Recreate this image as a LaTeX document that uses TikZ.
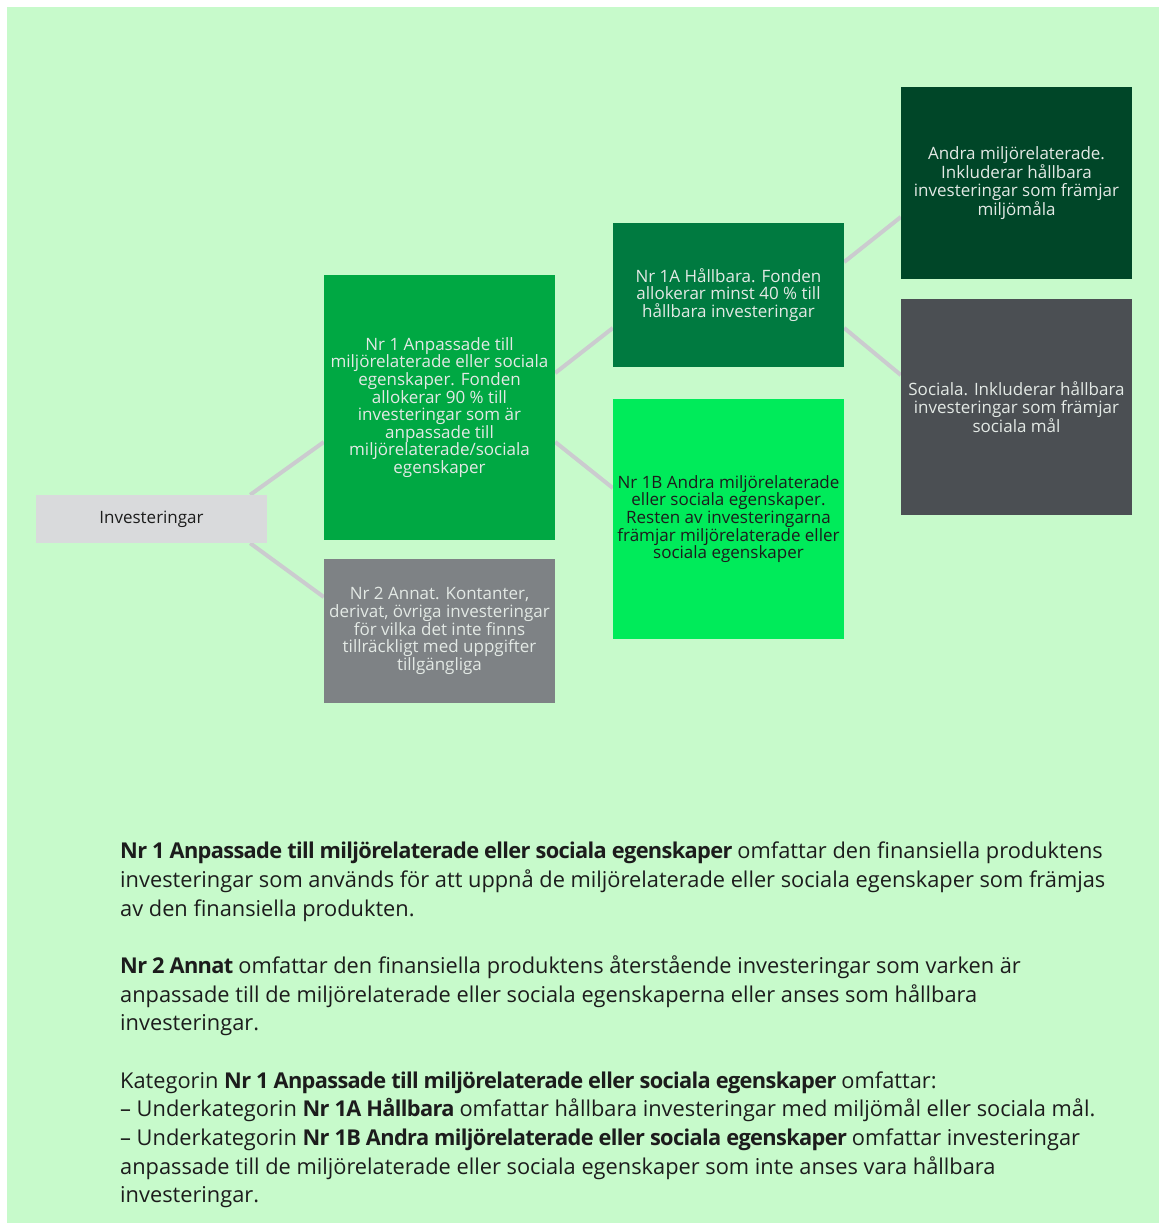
\documentclass[tikz,border=0pt]{standalone}
\usepackage{fontspec}
\setmainfont{Open Sans}[BoldFeatures={LetterSpace=-3}]
\usepackage{xcolor}

\definecolor{bggreen}{HTML}{C7FACB}
\definecolor{linkgrey}{HTML}{CBCBCF}
\definecolor{invgrey}{HTML}{D9DADC}
\definecolor{nronegreen}{HTML}{00A843}
\definecolor{nrtwogrey}{HTML}{7E8285}
\definecolor{nroneagreen}{HTML}{007A40}
\definecolor{nronebgreen}{HTML}{00EB5A}
\definecolor{andragreen}{HTML}{004628}
\definecolor{socialagrey}{HTML}{4B4F53}
\definecolor{boxtext}{HTML}{E3E9E5}
\definecolor{darktext}{HTML}{1C1C1C}

\pgfdeclarelayer{canvas}
\pgfdeclarelayer{links}
\pgfsetlayers{canvas,links,main}

\begin{document}
\begin{tikzpicture}[x=1pt, y=-1pt,
    box/.style={rectangle, minimum width=231pt, inner sep=2pt, align=center,
        font=\fontsize{17}{17.6}\selectfont, text=boxtext},
    link/.style={draw=linkgrey, line width=4pt}]

    \useasboundingbox (0,0) rectangle (1159,1223);

    % Background
    \begin{pgfonlayer}{canvas}
        \fill[white] (0,0) rectangle (1159,1223);
        \fill[bggreen] (7,7) rectangle (1159,1223);
    \end{pgfonlayer}

    % Root
    \node[box, fill=invgrey, minimum height=48pt, text=darktext] (inv) at (151.5,519) {Investeringar};

    % First level
    \node[box, fill=nronegreen, minimum height=265pt] (nrone) at (439.5,407.5)
        {Nr 1 Anpassade till\\miljörelaterade eller sociala\\egenskaper. Fonden\\allokerar 90 \% till\\investeringar som är\\anpassade till\\miljörelaterade/sociala\\egenskaper};
    \node[box, fill=nrtwogrey, minimum height=144pt] (nrtwo) at (439.5,631)
        {Nr 2 Annat. Kontanter,\\derivat, övriga investeringar\\för vilka det inte finns\\tillräckligt med uppgifter\\tillgängliga};

    % Second level
    \node[box, fill=nroneagreen, minimum height=144pt] (nronea) at (728.5,295)
        {Nr 1A Hållbara. Fonden\\allokerar minst 40 \% till\\hållbara investeringar};
    \node[box, fill=nronebgreen, minimum height=240pt, text=darktext] (nroneb) at (728.5,519)
        {Nr 1B Andra miljörelaterade\\eller sociala egenskaper.\\Resten av investeringarna\\främjar miljörelaterade eller\\sociala egenskaper};

    % Third level
    \node[box, fill=andragreen, minimum height=192pt] (andra) at (1016.5,183)
        {Andra miljörelaterade.\\Inkluderar hållbara\\investeringar som främjar\\miljömåla};
    \node[box, fill=socialagrey, minimum height=216pt] (sociala) at (1016.5,407)
        {Sociala. Inkluderar hållbara\\investeringar som främjar\\sociala mål};

    % Links
    \begin{pgfonlayer}{links}
        \draw[link] ([xshift=-17pt]inv.north east) -- ([yshift=-34.5pt]nrone.west);
        \draw[link] ([xshift=-17pt]inv.south east) -- ([yshift=34pt]nrtwo.west);
        \draw[link] ([yshift=34.5pt]nrone.east) -- ([yshift=-33pt]nronea.west);
        \draw[link] ([yshift=-34.5pt]nrone.east) -- ([yshift=31pt]nroneb.west);
        \draw[link] ([yshift=33pt]nronea.east) -- ([yshift=-34pt]andra.west);
        \draw[link] ([yshift=-33pt]nronea.east) -- ([yshift=32pt]sociala.west);
    \end{pgfonlayer}

    % Explanation
    \node[anchor=north west, inner sep=0pt, align=left, text=darktext,
        font=\fontsize{21.8}{28.67}\selectfont] (notes) at (120,842)
        {\textbf{Nr 1 Anpassade till miljörelaterade eller sociala egenskaper} omfattar den finansiella produktens\\
        investeringar som används för att uppnå de miljörelaterade eller sociala egenskaper som främjas\\
        av den finansiella produkten.\\[28.67pt]
        \textbf{Nr 2 Annat} omfattar den finansiella produktens återstående investeringar som varken är\\
        anpassade till de miljörelaterade eller sociala egenskaperna eller anses som hållbara\\
        investeringar.\\[28.67pt]
        Kategorin \textbf{Nr 1 Anpassade till miljörelaterade eller sociala egenskaper} omfattar:\\
        – Underkategorin \textbf{Nr 1A Hållbara} omfattar hållbara investeringar med miljömål eller sociala mål.\\
        – Underkategorin \textbf{Nr 1B Andra miljörelaterade eller sociala egenskaper} omfattar investeringar\\
        anpassade till de miljörelaterade eller sociala egenskaper som inte anses vara hållbara\\
        investeringar.};
\end{tikzpicture}
\end{document}
